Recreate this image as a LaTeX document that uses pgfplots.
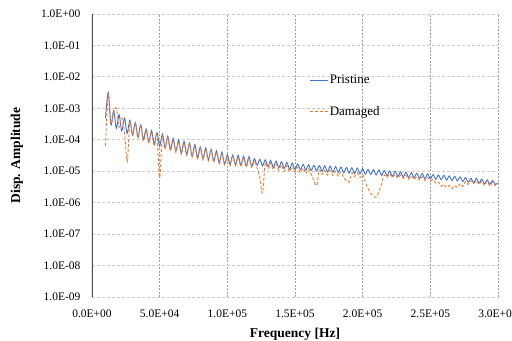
\documentclass[border=0pt]{standalone}
\usepackage{pgfplots}
\usepackage{pgfplotstable}
\pgfplotsset{compat=1.18}
\usepackage{fontspec}
\setmainfont{Liberation Serif}
\definecolor{pblue}{HTML}{4472C4}
\definecolor{dorange}{HTML}{ED7D31}
\pgfplotstableread{
f v
10000 5.0e-4
12000 3.2e-3
14000 2.95e-4
16000 8.5e-4
18000 2.3e-4
20000 6.3e-4
22000 1.9e-4
24000 4.9e-4
26000 1.6e-4
28000 4.2e-4
30000 1.4e-4
32000 3.5e-4
34000 1.2e-4
36000 3.0e-4
38000 1.0e-4
40000 2.2e-4
42000 8.3e-5
44000 1.95e-4
46000 7.2e-5
48000 1.7e-4
50000 6.3e-5
52000 1.5e-4
54000 5.5e-5
56000 1.3e-4
58000 4.8e-5
60000 1.12e-4
62000 4.3e-5
64000 1.0e-4
66000 3.8e-5
68000 8.9e-5
70000 3.4e-5
72000 7.9e-5
74000 3.0e-5
76000 7.1e-5
78000 2.7e-5
80000 6.0e-5
82000 2.5e-5
84000 5.5e-5
86000 2.3e-5
88000 5.0e-5
90000 2.1e-5
92000 4.5e-5
94000 1.86e-5
96000 4.1e-5
98000 1.66e-5
100000 3.4e-5
102000 1.66e-5
104000 3.3e-5
106000 1.62e-5
108000 3.2e-5
110000 1.55e-5
112000 3.0e-5
114000 1.48e-5
116000 2.95e-5
118000 1.45e-5
120000 2.5e-5
122000 1.55e-5
124000 2.4e-5
126000 1.48e-5
128000 2.3e-5
130000 1.41e-5
132000 2.2e-5
134000 1.35e-5
136000 2.1e-5
138000 1.29e-5
140000 2.0e-5
142000 1.23e-5
144000 1.9e-5
146000 1.17e-5
148000 1.82e-5
150000 1.15e-5
152000 1.7e-5
154000 1.12e-5
156000 1.66e-5
158000 1.07e-5
160000 1.62e-5
162000 1.05e-5
164000 1.55e-5
166000 1.02e-5
168000 1.51e-5
170000 1.0e-5
172000 1.48e-5
174000 9.5e-6
176000 1.45e-5
178000 9.3e-6
180000 1.41e-5
182000 9.1e-6
184000 1.35e-5
186000 8.9e-6
188000 1.32e-5
190000 8.7e-6
192000 1.29e-5
194000 8.5e-6
196000 1.26e-5
198000 8.3e-6
200000 1.2e-5
202000 8.1e-6
204000 1.15e-5
206000 7.9e-6
208000 1.12e-5
210000 7.6e-6
212000 1.1e-5
214000 7.4e-6
216000 1.05e-5
218000 7.2e-6
220000 1.02e-5
222000 6.9e-6
224000 1.0e-5
226000 6.8e-6
228000 9.5e-6
230000 6.6e-6
232000 9.3e-6
234000 6.3e-6
236000 9.1e-6
238000 6.2e-6
240000 8.7e-6
242000 6.0e-6
244000 8.5e-6
246000 5.75e-6
248000 8.3e-6
250000 5.75e-6
252000 7.8e-6
254000 5.6e-6
256000 7.6e-6
258000 5.4e-6
260000 7.4e-6
262000 5.25e-6
264000 7.1e-6
266000 5.1e-6
268000 6.9e-6
270000 4.9e-6
272000 6.6e-6
274000 4.7e-6
276000 6.3e-6
278000 4.5e-6
280000 6.0e-6
282000 4.3e-6
284000 5.9e-6
286000 4.2e-6
288000 5.6e-6
290000 4.0e-6
292000 5.25e-6
294000 3.9e-6
296000 5.1e-6
298000 3.8e-6
300000 4.3e-6
}\pristine
\pgfplotstableread{
f v
10000 6.3e-5
12000 3.0e-3
14000 3.2e-4
16000 7.9e-4
18000 1.0e-3
20000 2.5e-4
22000 5.0e-4
24000 1.8e-4
26000 2.0e-5
28000 3.5e-4
30000 1.4e-4
32000 3.2e-4
34000 1.12e-4
36000 2.8e-4
38000 8.9e-5
40000 2.0e-4
42000 7.9e-5
44000 1.8e-4
46000 6.3e-5
48000 1.4e-4
50000 6.3e-6
52000 1.26e-4
54000 5.0e-5
56000 1.12e-4
58000 4.5e-5
60000 1.0e-4
62000 4.0e-5
64000 8.9e-5
66000 3.5e-5
68000 7.9e-5
70000 3.2e-5
72000 7.1e-5
74000 2.8e-5
76000 6.3e-5
78000 2.5e-5
80000 5.4e-5
82000 2.3e-5
84000 5.0e-5
86000 2.1e-5
88000 4.5e-5
90000 1.9e-5
92000 4.0e-5
94000 1.74e-5
96000 3.5e-5
98000 1.6e-5
100000 3.0e-5
102000 1.5e-5
104000 2.95e-5
106000 1.48e-5
108000 2.8e-5
110000 1.41e-5
112000 2.7e-5
114000 1.35e-5
116000 2.5e-5
118000 1.32e-5
120000 2.1e-5
122000 1.26e-5
124000 6.3e-6
126000 2.0e-6
128000 1.8e-5
130000 1.2e-5
132000 1.82e-5
134000 1.12e-5
136000 1.74e-5
138000 1.07e-5
140000 1.6e-5
142000 1.0e-5
144000 1.5e-5
146000 9.5e-6
148000 1.41e-5
150000 9.3e-6
152000 1.35e-5
154000 8.9e-6
156000 1.26e-5
158000 8.5e-6
160000 1.2e-5
162000 7.9e-6
164000 5.0e-6
166000 3.5e-6
168000 1.1e-5
170000 7.9e-6
172000 1.07e-5
174000 7.6e-6
176000 1.05e-5
178000 7.4e-6
180000 1.0e-5
182000 7.1e-6
184000 9.5e-6
186000 6.3e-6
188000 5.0e-6
190000 4.5e-6
192000 8.9e-6
194000 6.8e-6
196000 8.9e-6
198000 6.3e-6
200000 7.9e-6
202000 4.5e-6
204000 2.8e-6
206000 2.0e-6
208000 1.6e-6
210000 1.5e-6
212000 2.2e-6
214000 4.0e-6
216000 7.6e-6
218000 6.3e-6
220000 8.3e-6
222000 6.3e-6
224000 7.9e-6
226000 6.0e-6
228000 7.6e-6
230000 5.9e-6
232000 7.4e-6
234000 5.6e-6
236000 7.1e-6
238000 5.4e-6
240000 6.8e-6
242000 5.25e-6
244000 6.6e-6
246000 5.0e-6
248000 6.3e-6
250000 5.0e-6
252000 5.6e-6
254000 4.2e-6
256000 4.5e-6
258000 3.3e-6
260000 3.8e-6
262000 3.0e-6
264000 3.5e-6
266000 2.8e-6
268000 3.5e-6
270000 3.0e-6
272000 4.0e-6
274000 3.3e-6
276000 4.7e-6
278000 3.8e-6
280000 5.0e-6
282000 4.0e-6
284000 5.0e-6
286000 3.8e-6
288000 4.8e-6
290000 3.5e-6
292000 4.7e-6
294000 3.4e-6
296000 4.5e-6
298000 3.5e-6
300000 4.0e-6
}\damaged
\begin{document}
\begin{tikzpicture}
\begin{axis}[
  at={(0,0)}, anchor=south west,
  width=406bp, height=283bp, scale only axis,
  xmin=0, xmax=300000,
  ymode=log, ymin=1e-9, ymax=1,
  xtick={0,50000,100000,150000,200000,250000,300000},
  xticklabels={0.0E+00,5.0E+04,1.0E+05,1.5E+05,2.0E+05,2.5E+05,3.0E+05},
  scaled x ticks=false,
  ytick={1e-9,1e-8,1e-7,1e-6,1e-5,1e-4,1e-3,1e-2,1e-1,1},
  yticklabels={1.0E-09,1.0E-08,1.0E-07,1.0E-06,1.0E-05,1.0E-04,1.0E-03,1.0E-02,1.0E-01,1.0E+00},
  minor tick num=0, yminorticks=false,
  major tick length=0pt,
  axis line style={draw=none},
  xmajorgrids, ymajorgrids,
  x grid style={gray!75, line width=0.8bp, dash pattern=on 2bp off 1.5bp},
  y grid style={gray!40, line width=0.8bp, dash pattern=on 3bp off 2bp},
  tick label style={font=\fontsize{11.5bp}{13bp}\selectfont},
  yticklabel style={xshift=-8bp},
  xticklabel style={yshift=-9bp},
  xlabel={\textbf{Frequency [Hz]}},
  ylabel={\textbf{Disp. Amplitude}},
  label style={font=\fontsize{13.5bp}{15bp}\selectfont},
  xlabel style={at={(axis description cs:0.5,0)}, anchor=center, yshift=-37bp},
  ylabel style={at={(axis description cs:0,0.5)}, anchor=center, yshift=75bp},
  legend style={draw=none, fill=none, at={(rel axis cs:0.535,0.79)}, anchor=north west,
    font=\fontsize{13bp}{15bp}\selectfont, row sep=18bp, inner sep=0pt,
    nodes={inner sep=1.5bp}},
  legend cell align=left,
  legend image code/.code={\draw[#1, sharp plot] (0bp,0bp) -- (18bp,0bp);},
]
\addplot[pblue, line width=0.9bp, no markers, smooth] table[x=f, y=v] {\pristine};
\addlegendentry{Pristine}
\addplot[dorange, line width=0.9bp, dash pattern=on 3bp off 2bp, no markers, smooth] table[x=f, y=v] {\damaged};
\addlegendentry{Damaged}
\draw[black!70, line width=1.3bp] (rel axis cs:0,0) -- (rel axis cs:0,1);
\end{axis}
\pgfresetboundingbox
\useasboundingbox (-92bp,-44bp) rectangle (420bp,297bp);
\end{tikzpicture}
\end{document}
